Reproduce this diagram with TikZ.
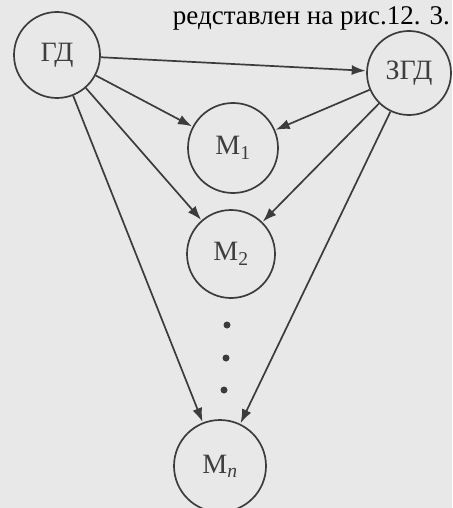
\documentclass[tikz,border=0pt]{standalone}
\usepackage{fontspec}
\setmainfont{Liberation Serif}
\usetikzlibrary{arrows.meta}
\definecolor{paper}{RGB}{232,232,232}
\definecolor{ink}{RGB}{60,60,60}
\definecolor{txt}{RGB}{62,62,62}
\begin{document}
\begin{tikzpicture}[x=1pt,y=-1pt,
  vertex/.style={circle,draw=ink,line width=1.7pt,inner sep=0pt,text=txt,font=\fontsize{28}{30}\selectfont},
  link/.style={draw=ink,line width=1.7pt,-{Latex[length=14pt,width=10pt]},shorten >=0.5pt},
  dotmark/.style={circle,fill=ink,inner sep=0pt,minimum size=7pt}]
\fill[paper] (0,0) rectangle (452,508);
\useasboundingbox (0,0) rectangle (452,508);
\node[anchor=base east,text=black,inner sep=0pt,font=\fontsize{27}{28}\selectfont] (cap) at (450,25) {редставлен на рис.12. 3.};
\node[vertex,minimum size=86pt] (gd) at (57,55) {ГД};
\node[vertex,minimum size=84pt] (zgd) at (409,73) {ЗГД};
\node[vertex,minimum size=90pt] (m1) at (233,148) {М\textsubscript{1}};
\node[vertex,minimum size=88pt] (m2) at (231,254) {М\textsubscript{2}};
\node[vertex,minimum size=92pt] (mn) at (220,466) {М\textsubscript{\itshape n}};
\node[dotmark] (d1) at (227,325) {};
\node[dotmark] (d2) at (226,358) {};
\node[dotmark] (d3) at (224,390) {};
\draw[link] (gd) -- (zgd);
\draw[link] (gd) -- (m1);
\draw[link] (gd) -- (m2);
\draw[link] (gd) -- (mn);
\draw[link] (zgd) -- (m1);
\draw[link] (zgd) -- (m2);
\draw[link] (zgd) -- (mn);
\end{tikzpicture}
\end{document}
